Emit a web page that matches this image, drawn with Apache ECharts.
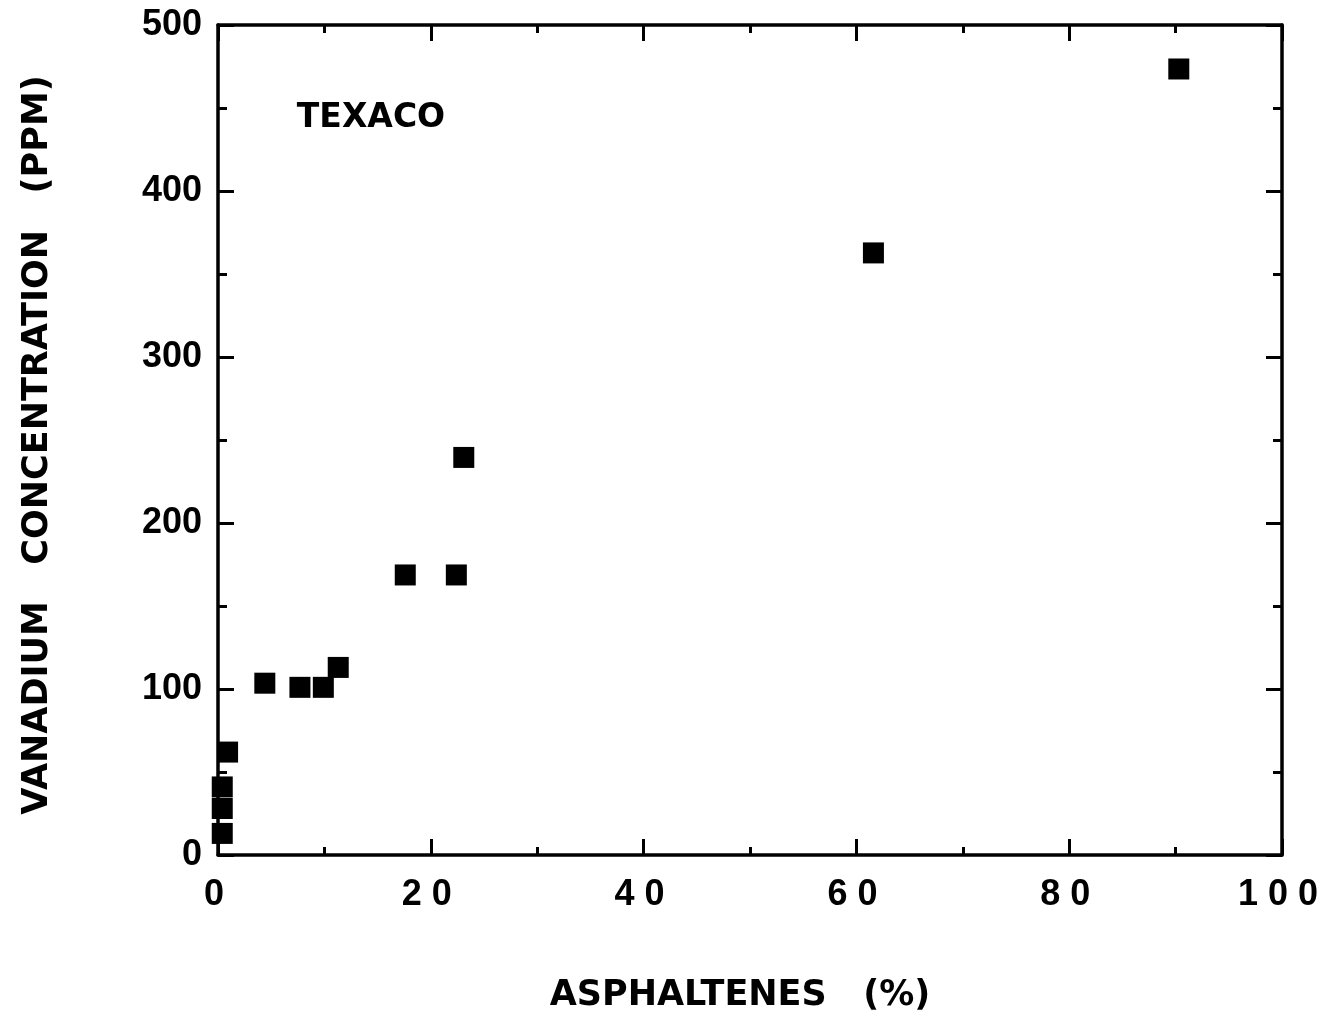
<!DOCTYPE html>
<html>
<head>
<meta charset="utf-8">
<script src="https://cdn.jsdelivr.net/npm/echarts@6/dist/echarts.min.js"></script>
<style>html,body{margin:0;padding:0;background:#fff}#c{width:1326px;height:1020px}</style>
</head>
<body>
<div id="c"></div>
<script>
// Data
const asphaltenes = [0.4, 0.4, 0.4, 0.9, 4.4, 7.7, 9.9, 11.3, 17.6, 22.4, 23.1, 61.6, 90.3];
const vanadium   = [13, 28, 41, 62, 103.5, 101, 101, 113, 168.7, 168.7, 239.5, 362.7, 473.5];
const xTickValues = [0, 20, 40, 60, 80, 100];
const xTickLabels = ['0', '2 0', '4 0', '6 0', '8 0', '1 0 0'];
const xTitle = 'ASPHALTENES   (%)';
const yTitle = 'VANADIUM   CONCENTRATION   (PPM)';
const annotation = 'TEXACO';

const points = asphaltenes.map((x, i) => [x, vanadium[i]]);
const labelFont = 'Liberation Sans';
const titleFont = 'DejaVu Sans';

const chart = echarts.init(document.getElementById('c'), null, {renderer: 'canvas'});
const lineStyle = {color: '#000', width: 3.5};
const baseX = {
  type: 'value', min: 0, max: 100, interval: 20,
  axisLine: {show: true, onZero: false, lineStyle: lineStyle},
  axisTick: {show: true, inside: true, length: 16, lineStyle: {color: '#000', width: 3}},
  minorTick: {show: true, splitNumber: 2, length: 8, lineStyle: {color: '#000', width: 3}},
  splitLine: {show: false},
  minorSplitLine: {show: false}
};
const baseY = {
  type: 'value', min: 0, max: 500, interval: 100,
  axisLine: {show: true, onZero: false, lineStyle: lineStyle},
  axisTick: {show: true, inside: true, length: 16, lineStyle: {color: '#000', width: 3}},
  minorTick: {show: true, splitNumber: 2, length: 9, lineStyle: {color: '#000', width: 3}},
  splitLine: {show: false},
  minorSplitLine: {show: false}
};

chart.setOption({
  animation: false,
  backgroundColor: '#fff',
  grid: {left: 218, right: 44, top: 25, bottom: 165, containLabel: false},
  xAxis: [
    Object.assign({}, baseX, {
      position: 'bottom',
      axisLabel: {
        show: true, margin: 22, color: '#000', fontFamily: labelFont, fontWeight: 'bold', fontSize: 36,
        padding: [0, 8, 0, 0],
        formatter: v => { const i = xTickValues.indexOf(v); return i >= 0 ? xTickLabels[i] : ''; }
      }
    }),
    Object.assign({}, baseX, {position: 'top', axisLabel: {show: false}})
  ],
  yAxis: [
    Object.assign({}, baseY, {
      position: 'left',
      axisLabel: {show: true, margin: 16, color: '#000', fontFamily: labelFont, fontWeight: 'bold', fontSize: 36}
    }),
    Object.assign({}, baseY, {position: 'right', axisLabel: {show: false}})
  ],
  series: [{
    type: 'scatter',
    xAxisIndex: 0, yAxisIndex: 0,
    symbol: 'rect',
    symbolSize: 21,
    itemStyle: {color: '#000', opacity: 1},
    emphasis: {disabled: true},
    data: points
  }],
  graphic: [
    {type: 'text', x: 740, y: 996, style: {text: xTitle, fill: '#000', font: 'bold 35px "' + titleFont + '"', align: 'center', verticalAlign: 'middle'}},
    {type: 'text', x: 38, y: 445, rotation: Math.PI / 2, style: {text: yTitle, fill: '#000', font: 'bold 35px "' + titleFont + '"', align: 'center', verticalAlign: 'middle'}},
    {type: 'text', x: 371, y: 118, style: {text: annotation, fill: '#000', font: 'bold 33px "' + titleFont + '"', align: 'center', verticalAlign: 'middle'}}
  ]
});
</script>
</body>
</html>
